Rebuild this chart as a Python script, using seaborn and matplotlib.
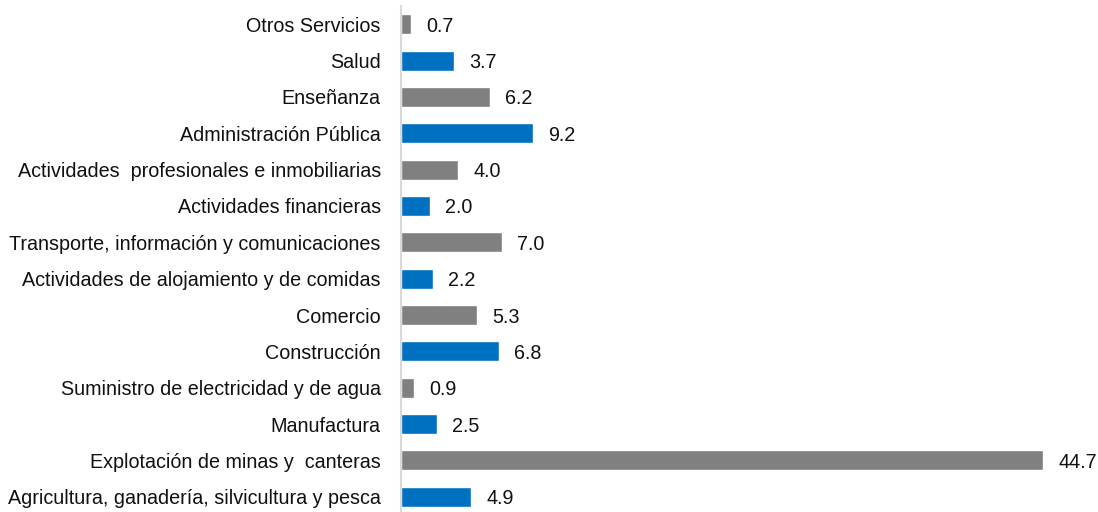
import matplotlib
matplotlib.use("Agg")
import matplotlib.pyplot as plt
import seaborn as sns
import pandas as pd

sectores = [
    "Otros Servicios",
    "Salud",
    "Enseñanza",
    "Administración Pública",
    "Actividades  profesionales e inmobiliarias",
    "Actividades financieras",
    "Transporte, información y comunicaciones",
    "Actividades de alojamiento y de comidas",
    "Comercio",
    "Construcción",
    "Suministro de electricidad y de agua",
    "Manufactura",
    "Explotación de minas y  canteras",
    "Agricultura, ganadería, silvicultura y pesca",
]
valores = [0.7, 3.7, 6.2, 9.2, 4.0, 2.0, 7.0, 2.2, 5.3, 6.8, 0.9, 2.5, 44.7, 4.9]
colores = ["#808080", "#0070C0"] * 7

sns.set_theme(style="white")
plt.rcParams["font.family"] = ["Liberation Sans", "DejaVu Sans"]
FS = 14.2

df = pd.DataFrame({"sector": sectores, "valor": valores})

fig = plt.figure(figsize=(10.98, 5.12), dpi=100)
ax = fig.add_axes([401 / 1098, -3 / 512, (1098 - 401) / 1098, 509 / 512])
sns.barplot(data=df, x="valor", y="sector", hue="sector", palette=colores,
            legend=False, width=0.55, ax=ax, saturation=1)

for c in ax.containers:
    labels = ax.bar_label(c, fmt="%.1f", padding=11, fontsize=FS, color="#111111")
    for t in labels:
        t.set_verticalalignment("center_baseline")

ax.set_xlim(0, 48.5)
ax.set_xlabel("")
ax.set_ylabel("")
ax.set_xticks([])
ax.tick_params(axis="y", length=0, pad=14.5, labelsize=FS, labelcolor="#111111")
for s in ["top", "right", "bottom"]:
    ax.spines[s].set_visible(False)
ax.spines["left"].set_color("#d9d9d9")
ax.spines["left"].set_linewidth(1.5)

fig.savefig("out.png", dpi=100)
